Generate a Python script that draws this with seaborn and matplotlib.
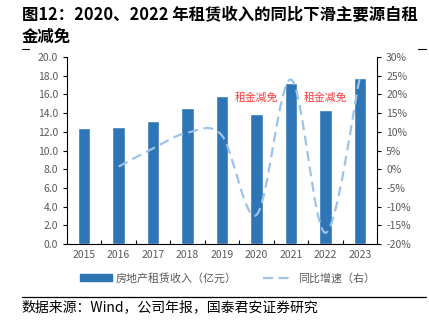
import numpy as np
import pandas as pd
import matplotlib
matplotlib.use("Agg")
import matplotlib.pyplot as plt
import seaborn as sns
from matplotlib.path import Path
from matplotlib.patches import PathPatch, Patch
from matplotlib.lines import Line2D
from matplotlib.ticker import FuncFormatter, MultipleLocator

years = ["2015", "2016", "2017", "2018", "2019", "2020", "2021", "2022", "2023"]
revenue = [12.4, 12.5, 13.2, 14.5, 15.8, 13.9, 17.2, 14.3, 17.8]
growth_years = ["2016", "2017", "2018", "2019", "2020", "2021", "2022", "2023"]
growth = [0.7, 5.6, 9.8, 9.0, -12.2, 24.0, -17.0, 24.6]
annotation_years = ["2020", "2022"]
annotations = ["租金减免", "租金减免"]
title_lines = ["图12：2020、2022 年租赁收入的同比下滑主要源自租", "金减免"]
legend_labels = ["房地产租赁收入（亿元）", "同比增速（右）"]
source = "数据来源：Wind，公司年报，国泰君安证券研究"

sns.set_theme(style="white")
plt.rcParams['font.family'] = ['Noto Sans CJK SC', 'DejaVu Sans']
plt.rcParams['axes.unicode_minus'] = False

BAR = "#2E75B6"
LINE = "#9DC3E6"
GREY = "#595959"

fig = plt.figure(figsize=(4.29, 3.28), dpi=100)
ax = fig.add_axes([0.156, 0.256, 0.723, 0.570])

df = pd.DataFrame({"year": years, "revenue": revenue})
sns.barplot(data=df, x="year", y="revenue", color=BAR, saturation=1, width=0.36, ax=ax)
ax.set_xlim(-0.5, len(years) - 0.5)
ax.set_ylim(0, 20)
ax.yaxis.set_major_locator(MultipleLocator(2))
ax.yaxis.set_major_formatter(FuncFormatter(lambda v, p: f"{v:.1f}"))
ax.set_xlabel("")
ax.set_ylabel("")
ax.set_xticks(range(len(years)))
ax.set_xticklabels(years)
ax.set_xticks(np.arange(0.5, len(years) - 1, 1), minor=True)
ax.tick_params(axis="x", which="major", length=0, colors=GREY, labelsize=7.5, pad=4)
ax.tick_params(axis="x", which="minor", length=3, width=0.8, color="black", direction="in", bottom=True)
ax.tick_params(axis="y", which="major", length=3, width=0.8, color="black", colors=GREY, labelsize=7.5, left=True, direction="out")
for lab in ax.get_yticklabels():
    lab.set_color(GREY)
for s in ["left", "bottom"]:
    ax.spines[s].set_color("black")
    ax.spines[s].set_linewidth(0.8)
ax.spines["top"].set_visible(False)
ax.spines["right"].set_visible(False)

ax2 = ax.twinx()
ax2.set_ylim(-20, 30)
ax2.yaxis.set_major_locator(MultipleLocator(5))
ax2.yaxis.set_major_formatter(FuncFormatter(lambda v, p: f"{v:.0f}%"))
ax2.tick_params(axis="y", length=3, width=0.8, color="black", labelcolor=GREY, labelsize=7.5, right=True, direction="out")
for s in ["left", "bottom", "top"]:
    ax2.spines[s].set_visible(False)
ax2.spines["right"].set_color("black")
ax2.spines["right"].set_linewidth(0.8)
ax2.grid(False)

# smoothed (Excel-like) Bezier line through growth points
xs = np.array([years.index(y) for y in growth_years], dtype=float)
ys = np.array(growth, dtype=float)
pts = np.column_stack([xs, ys])
n = len(pts)
verts = [tuple(pts[0])]
codes = [Path.MOVETO]
for i in range(n - 1):
    p0 = pts[i - 1] if i > 0 else pts[i]
    p1 = pts[i]
    p2 = pts[i + 1]
    p3 = pts[i + 2] if i + 2 < n else pts[i + 1]
    c1 = p1 + (p2 - p0) / 6.0
    c2 = p2 - (p3 - p1) / 6.0
    verts += [tuple(c1), tuple(c2), tuple(p2)]
    codes += [Path.CURVE4, Path.CURVE4, Path.CURVE4]
patch = PathPatch(Path(verts, codes), facecolor="none", edgecolor=LINE, lw=1.6,
                  linestyle=(0, (4.5, 2.5)), capstyle="butt")
ax2.add_patch(patch)

# annotations above the 2020 / 2022 bars
for yr, txt in zip(annotation_years, annotations):
    ax.text(years.index(yr), 15.7, txt, color="#FF3B3B", fontsize=7.8, ha="center", va="center")

# legend
handles = [Patch(facecolor=BAR, edgecolor=BAR),
           Line2D([0], [0], color=LINE, lw=1.6, linestyle=(0, (4.5, 2.5)))]
leg = fig.legend(handles, legend_labels, loc="center", bbox_to_anchor=(0.53, 0.152), ncol=2,
                 frameon=False, fontsize=7.9, handlelength=2.9, handleheight=0.55,
                 columnspacing=2.4, handletextpad=0.3)
for t in leg.get_texts():
    t.set_color(GREY)

# title
fig.text(0.051, 0.955, title_lines[0], fontsize=11.8, fontweight="bold", ha="left", va="center", color="black")
fig.text(0.051, 0.888, title_lines[1], fontsize=11.8, fontweight="bold", ha="left", va="center", color="black")
fig.add_artist(Line2D([0.051, 0.068], [0.852, 0.852], color="black", lw=0.8))
fig.add_artist(Line2D([0.975, 0.993], [0.852, 0.852], color="black", lw=0.8))

# source
fig.add_artist(Line2D([0.051, 0.993], [0.094, 0.094], color="black", lw=0.9))
fig.text(0.051, 0.064, source, fontsize=10, ha="left", va="center", color="black")

fig.savefig("out.png", dpi=100)
